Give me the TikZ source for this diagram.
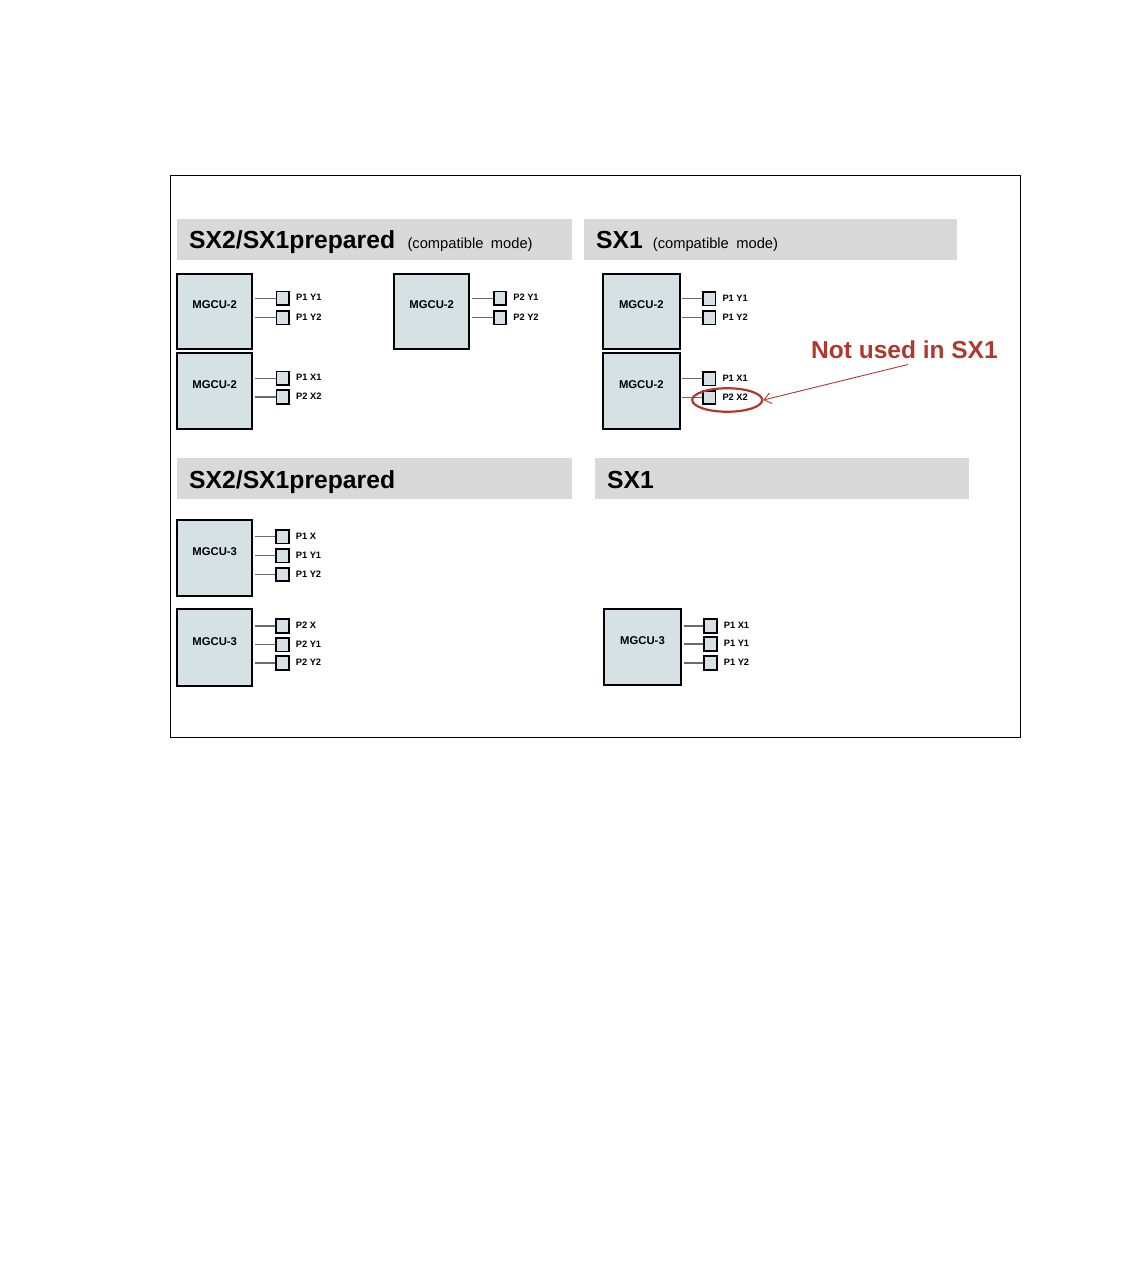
\documentclass[tikz,border=0pt]{standalone}
\usepackage{fontspec}
\setmainfont{Liberation Sans}
\usetikzlibrary{arrows.meta,shapes.geometric}
\definecolor{hdr}{HTML}{D9D9D9}
\definecolor{boxfill}{HTML}{D5E1E5}
\definecolor{redc}{HTML}{B0392E}
\definecolor{wire}{HTML}{6A6A6A}
\tikzset{
  hdrbar/.style={fill=hdr, draw=none, inner sep=0pt},
  hdrbig/.style={inner sep=0pt, anchor=base west, font=\bfseries\fontsize{24.7}{26}\selectfont},
  hdrsmall/.style={inner sep=0pt, anchor=base west, font=\fontsize{14.7}{16}\selectfont},
  mgcu/.style={draw=black, line width=2pt, fill=boxfill, inner sep=0pt, minimum width=75.5pt, minimum height=75.5pt},
  mgculbl/.style={inner sep=0pt, font=\bfseries\fontsize{11.3}{12}\selectfont},
  portsq/.style={draw=black, line width=1.7pt, fill=boxfill, inner sep=0pt, minimum width=12.5pt, minimum height=13.5pt},
  portlbl/.style={inner sep=0pt, anchor=mid west, font=\bfseries\fontsize{9.3}{10}\selectfont},
  wire/.style={draw=wire, line width=1.1pt},
}
\newcommand\portnode[4]{%
  \node[portsq] (#1) at (#2,#3) {};
  \node[portlbl] (#1l) at ([xshift=6pt]#1.east) {#4};
}
\begin{document}
\begin{tikzpicture}[x=1pt,y=-1pt]
\useasboundingbox (0,0) rectangle (1134,1271);
\node[draw=black, line width=0.9pt, minimum width=849.6pt, minimum height=561.7pt, inner sep=0pt] (frame) at (595.5,456.2) {};

% header bars
\node[hdrbar, minimum width=395pt, minimum height=40.7pt] (h1) at (374.8,239.7) {};
\node[hdrbar, minimum width=373.3pt, minimum height=40.7pt] (h2) at (770.7,239.7) {};
\node[hdrbar, minimum width=395pt, minimum height=40.7pt] (h3) at (374.8,478.4) {};
\node[hdrbar, minimum width=374pt, minimum height=40.7pt] (h4) at (782,478.4) {};

\node[hdrbig] (t1) at (189,248) {SX2/SX1prepared};
\node[hdrsmall] (t1b) at (407.3,248.5) {(compatible\hspace{7.5pt}mode)};
\node[hdrbig] (t2) at (596,248) {SX1};
\node[hdrsmall] (t2b) at (652.7,248.5) {(compatible\hspace{7.5pt}mode)};
\node[hdrbig] (t3) at (189,488) {SX2/SX1prepared};
\node[hdrbig] (t4) at (607,488) {SX1};

% MGCU boxes
\node[mgcu] (b1) at (214.7,311.3) {};
\node[mgculbl] (b1l) at (214.7,305) {MGCU-2};
\node[mgcu] (b2) at (214.7,391) {};
\node[mgculbl] (b2l) at (214.7,385) {MGCU-2};
\node[mgcu] (b3) at (431.7,311.3) {};
\node[mgculbl] (b3l) at (431.7,305) {MGCU-2};
\node[mgcu, minimum width=76.8pt] (b4) at (641.3,311.3) {};
\node[mgculbl] (b4l) at (641.3,305) {MGCU-2};
\node[mgcu, minimum width=76.8pt] (b5) at (641.3,391) {};
\node[mgculbl] (b5l) at (641.3,385) {MGCU-2};
\node[mgcu, minimum height=76.2pt] (b6) at (214.7,558.3) {};
\node[mgculbl] (b6l) at (214.7,551.5) {MGCU-3};
\node[mgcu, minimum height=76.2pt] (b7) at (214.7,647.5) {};
\node[mgculbl] (b7l) at (214.7,641.3) {MGCU-3};
\node[mgcu, minimum width=77.8pt, minimum height=76.2pt] (b8) at (642.5,646.7) {};
\node[mgculbl] (b8l) at (642.5,641) {MGCU-3};

% ports
\portnode{p11}{282.8}{298.2}{P1 Y1}
\portnode{p12}{282.8}{317.8}{P1 Y2}
\portnode{p21}{282.8}{378.3}{P1 X1}
\portnode{p22}{282.8}{397}{P2 X2}
\portnode{p31}{500}{298.2}{P2 Y1}
\portnode{p32}{500}{317.8}{P2 Y2}
\portnode{p41}{709.2}{298.8}{P1 Y1}
\portnode{p42}{709.2}{317.7}{P1 Y2}
\portnode{p51}{709.2}{378.7}{P1 X1}
\portnode{p52}{709.2}{397.5}{P2 X2}
\portnode{p61}{282.5}{536.8}{P1 X}
\portnode{p62}{282.5}{555.8}{P1 Y1}
\portnode{p63}{282.5}{574.5}{P1 Y2}
\portnode{p71}{282.5}{626}{P2 X}
\portnode{p72}{282.5}{644.7}{P2 Y1}
\portnode{p73}{282.5}{663}{P2 Y2}
\portnode{p81}{710.5}{626}{P1 X1}
\portnode{p82}{710.5}{644}{P1 Y1}
\portnode{p83}{710.5}{663}{P1 Y2}

% wires
\foreach \b/\p in {b1/p11,b1/p12,b2/p21,b2/p22,b3/p31,b3/p32,b4/p41,b4/p42,b5/p51,b5/p52,b6/p61,b6/p62,b6/p63,b7/p71,b7/p72,b7/p73,b8/p81,b8/p82,b8/p83}
  \draw[wire] ([xshift=1.5pt]\b.east |- \p) -- (\p.west);

% annotation
\node[ellipse, draw=redc, line width=2.2pt, minimum width=70pt, minimum height=23.5pt, inner sep=0pt] (oval) at (727.2,400) {};
\node[inner sep=0pt, anchor=base west, text=redc, font=\bfseries\fontsize{24.5}{26}\selectfont] (note) at (811,358.3) {Not used in SX1};
\coordinate (arrstart) at (908,364.5);
\draw[draw=redc, line width=0.9pt, -{Straight Barb[length=7pt,width=11pt]}] (arrstart) -- (oval.east);
\end{tikzpicture}
\end{document}
